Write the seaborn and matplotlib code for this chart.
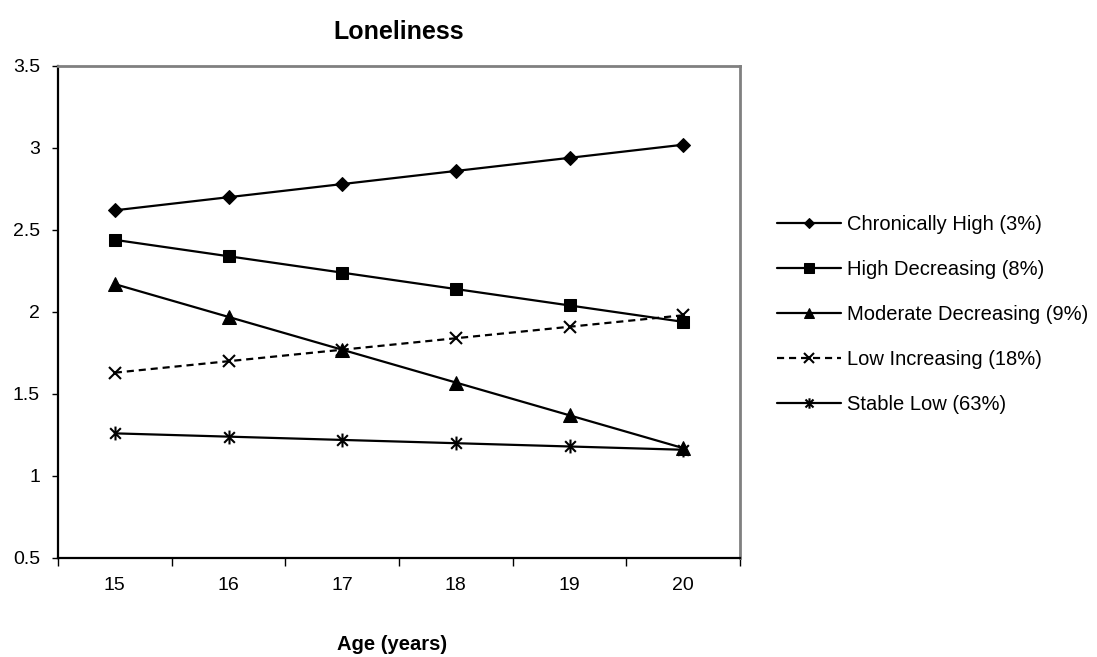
import matplotlib
matplotlib.use("Agg")
import matplotlib.pyplot as plt
from matplotlib.path import Path
import numpy as np
import pandas as pd
import seaborn as sns

# Loneliness trajectory means by age
ages = [15, 16, 17, 18, 19, 20]
chronically_high = [2.62, 2.70, 2.78, 2.86, 2.94, 3.02]
high_decreasing = [2.44, 2.34, 2.24, 2.14, 2.04, 1.94]
moderate_decreasing = [2.17, 1.97, 1.77, 1.57, 1.37, 1.17]
low_increasing = [1.63, 1.70, 1.77, 1.84, 1.91, 1.98]
stable_low = [1.26, 1.24, 1.22, 1.20, 1.18, 1.16]

labels = [
    "Chronically High (3%)",
    "High Decreasing (8%)",
    "Moderate Decreasing (9%)",
    "Low Increasing (18%)",
    "Stable Low (63%)",
]
series = [chronically_high, high_decreasing, moderate_decreasing,
          low_increasing, stable_low]

sns.set_theme(style="white")
plt.rcParams["font.family"] = ["Liberation Sans", "DejaVu Sans"]
plt.rcParams["text.color"] = "black"
plt.rcParams["axes.labelcolor"] = "black"

# asterisk marker: an X crossed by a vertical bar
asterisk = Path(
    [(-1, -1), (1, 1), (-1, 1), (1, -1), (0, -1.3), (0, 1.3)],
    [Path.MOVETO, Path.LINETO, Path.MOVETO, Path.LINETO, Path.MOVETO, Path.LINETO],
)

styles = [
    dict(marker="D", markersize=7.2, linestyle="-"),
    dict(marker="s", markersize=9.0, linestyle="-"),
    dict(marker="^", markersize=9.5, linestyle="-"),
    dict(marker="x", markersize=9.0, linestyle=(0, (3.2, 2.2)), markeredgewidth=1.5),
    dict(marker=asterisk, markersize=10.0, linestyle="-", markeredgewidth=1.5),
]

fig = plt.figure(figsize=(10.97, 6.57), dpi=100)
ax = fig.add_axes([58 / 1097, 1 - 558 / 657, (740 - 58) / 1097, (558 - 66) / 657])

for lab, vals, st in zip(labels, series, styles):
    df = pd.DataFrame({"age": ages, "score": vals})
    sns.lineplot(data=df, x="age", y="score", ax=ax, color="black",
                 linewidth=1.6, markeredgecolor="black", markerfacecolor="black",
                 label=lab, **st)

ax.set_xlim(14.5, 20.5)
ax.set_ylim(0.5, 3.5)
ax.set_yticks(np.arange(0.5, 3.51, 0.5))
ax.set_yticklabels(["0.5", "1", "1.5", "2", "2.5", "3", "3.5"])
ax.set_xticks(ages)
ax.set_xticklabels([str(a) for a in ages])
ax.set_xticks(np.arange(14.5, 20.51, 1.0), minor=True)
ax.tick_params(axis="x", which="major", length=0, pad=14, labelsize=14, colors="black")
ax.tick_params(axis="x", which="minor", length=6, width=1, direction="out",
               bottom=True, color="black")
ax.tick_params(axis="y", which="major", length=4, width=1, direction="out",
               left=True, pad=9, labelsize=14, colors="black")

for side in ("left", "bottom"):
    ax.spines[side].set_color("black")
    ax.spines[side].set_linewidth(1.6)
for side in ("top", "right"):
    ax.spines[side].set_color("#808080")
    ax.spines[side].set_linewidth(2.0)

ax.set_xlabel("")
ax.set_ylabel("")
fig.text(392 / 1097, 1 - 644 / 657, "Age (years)", ha="center", va="center",
         fontsize=14.5, fontweight="bold", color="black")
fig.text(399 / 1097, 1 - 32 / 657, "Loneliness", ha="center", va="center",
         fontsize=18, fontweight="bold", color="black")

leg = ax.legend(loc="center left", bbox_to_anchor=(777 / 1097, 1 - 314.5 / 657),
                bbox_transform=fig.transFigure, frameon=False, fontsize=14.5,
                handlelength=3.2, handletextpad=0.3, labelspacing=1.3,
                borderpad=0, borderaxespad=0, markerscale=0.75)

fig.savefig("out.png", dpi=100, facecolor="white")
